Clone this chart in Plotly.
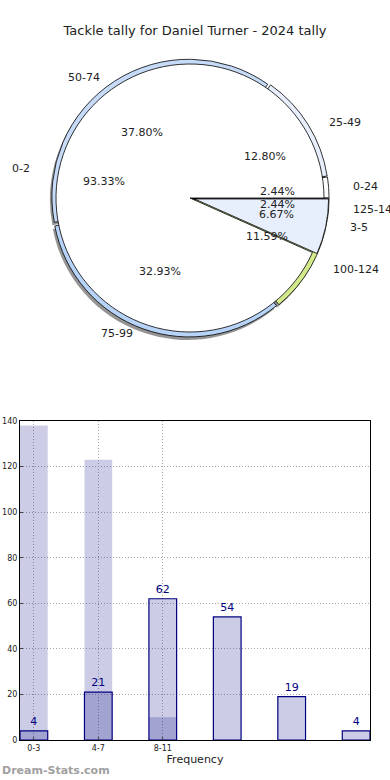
import math
import plotly.graph_objects as go

# ---- data ----
outer_labels = ["0-24", "25-49", "50-74", "75-99", "100-124", "125-149"]
outer_values = [4, 21, 62, 54, 19, 4]
inner_labels = ["0-2", "3-5"]
inner_values = [14, 1]

bar_x = [0, 1, 2, 3, 4, 5]
bar_values = [4, 21, 62, 54, 19, 4]
bg_x = [0, 1, 2]
bg_values = [138, 123, 10]
tick_pos = [0, 1, 2]
tick_labels = ["0-3", "4-7", "8-11"]

# ---- styles ----
outer_colors = ["#ffffff", "#e8effc", "#c6dbf8", "#b7d3f8", "#d3ea8c", "#e8effc"]
inner_colors = ["#ffffff", "#e8effc"]
outer_pull = [0.015] * 6
inner_pull = [0.0, 0.035]
W, H = 390, 780
FONT = "DejaVu Sans"
CX, CY, R_OUT, R_IN = 190, 198, 137, 134
TX, TY = 147, 131  # text placement radii (horizontal, vertical)


def dom(cx, cy, r, dx=0, dy=0):
    return dict(x=[(cx - r + dx) / W, (cx + r + dx) / W],
                y=[1 - (cy + r + dy) / H, 1 - (cy - r + dy) / H])


def pie(values, labels, colors, pull, r, dx=0, dy=0, line=0.8):
    # matplotlib order: first slice starts at 3 o'clock, counterclockwise
    return go.Pie(values=values[::-1], labels=labels[::-1], sort=False,
                  direction="clockwise", rotation=90,
                  pull=pull[::-1], domain=dom(CX, CY, r * (1 + max(pull)), dx, dy),
                  marker=dict(colors=colors[::-1], line=dict(color="black", width=line)),
                  textinfo="none", hoverinfo="skip", showlegend=False)


def pie_texts(values, labels):
    total = float(sum(values))
    anns = []
    start = 0.0
    for v, lab in zip(values, labels):
        mid = math.radians(360.0 * (start + v / 2.0) / total)
        start += v
        cx, cy = math.cos(mid), math.sin(mid)
        anns.append(dict(text=f"{100 * v / total:.2f}%",
                         x=(CX + 0.6 * TX * cx) / W, y=1 - (CY - 0.6 * TY * cy) / H,
                         xanchor="center", yanchor="middle"))
        anns.append(dict(text=lab,
                         x=(CX + 1.1 * TX * cx) / W, y=1 - (CY - 1.1 * TY * cy) / H,
                         xanchor="left" if cx > 0 else "right", yanchor="middle"))
    for a in anns:
        a.update(xref="paper", yref="paper", showarrow=False,
                 font=dict(family=FONT, size=11, color="#222"))
    return anns


fig = go.Figure()
fig.add_trace(pie(outer_values, outer_labels, ["rgba(60,60,60,0.55)"] * 6, outer_pull, R_OUT, -2, 3, 0))
fig.add_trace(pie(outer_values, outer_labels, outer_colors, outer_pull, R_OUT))
fig.add_trace(pie(inner_values, inner_labels, inner_colors, inner_pull, R_IN))

# ---- bars ----
fig.add_trace(go.Bar(x=bg_x, y=bg_values, width=0.43,
                     marker=dict(color="rgba(0,0,128,0.2)", line=dict(width=0)),
                     hoverinfo="skip", showlegend=False))
fig.add_trace(go.Bar(x=bar_x, y=bar_values, width=0.43,
                     marker=dict(color="rgba(0,0,128,0.2)", line=dict(color="#000080", width=1.2)),
                     text=[str(v) for v in bar_values], textposition="outside",
                     textfont=dict(family=FONT, size=11, color="#000080"),
                     cliponaxis=False, hoverinfo="skip", showlegend=False))

annotations = pie_texts(outer_values, outer_labels) + pie_texts(inner_values, inner_labels)
annotations.append(dict(text="<b>Dream-Stats.com</b>", x=0, y=1 - 770 / H, xref="paper", yref="paper",
                        xanchor="left", yanchor="middle", showarrow=False,
                        font=dict(family=FONT, size=11, color="#a0a0a0")))

grid = dict(showgrid=True, gridcolor="#a8a8a8", griddash="1px,2px", gridwidth=1,
            showline=True, linecolor="black", linewidth=1, mirror=True,
            ticks="inside", ticklen=3, zeroline=False, automargin=False,
            tickfont=dict(size=8, color="#222"))

fig.update_layout(
    width=W, height=H,
    margin=dict(l=0, r=0, t=0, b=0, autoexpand=False),
    paper_bgcolor="white", plot_bgcolor="white",
    font=dict(family=FONT, size=11, color="#222"),
    barmode="overlay",
    title=dict(text="Tackle tally for Daniel Turner - 2024 tally", x=0.5, xanchor="center",
               y=1 - 30 / H, yanchor="middle", font=dict(family=FONT, size=13, color="#222")),
    xaxis=dict(domain=[20 / W, 370 / W], range=[-0.215, 5.215],
               tickvals=tick_pos, ticktext=tick_labels,
               title=dict(text="Frequency", font=dict(size=11, color="#222"), standoff=2), **grid),
    yaxis=dict(domain=[1 - 740 / H, 1 - 421 / H], range=[0, 140], dtick=20, **grid),
    annotations=annotations,
)

fig.write_html("out.html", config={"displayModeBar": False},
               post_script="document.body.style.margin='0';document.body.style.overflow='hidden';")
